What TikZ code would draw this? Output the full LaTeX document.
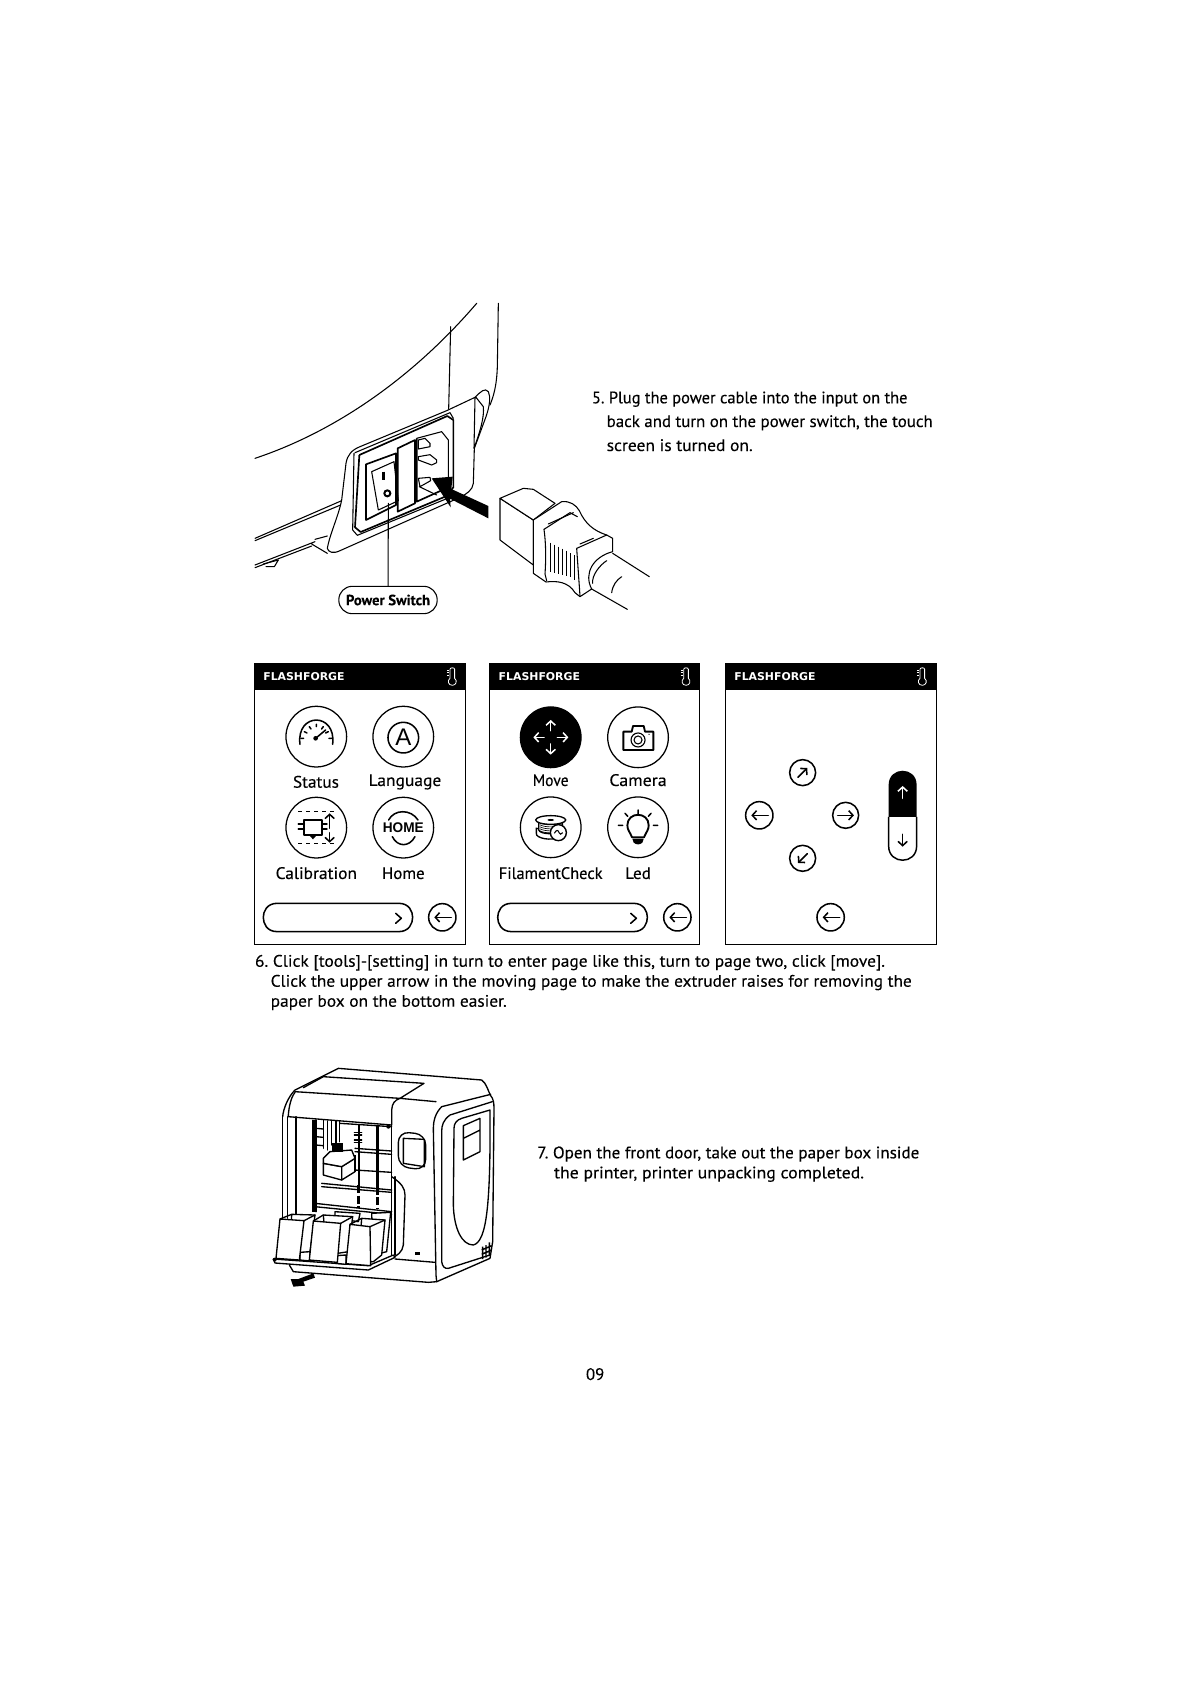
\documentclass[tikz,border=0pt]{standalone}
\usepackage{graphicx}
\usepackage{fontspec}
\setmainfont{PT Sans}[FakeBold=0.25]
\newfontfamily\logofont{DejaVu Sans}
\newfontfamily\iconfont{Liberation Sans}
\usetikzlibrary{arrows.meta}
\newcommand{\bodytxt}{\fontsize{12.5}{14}\selectfont\frenchspacing}
\newcommand{\widetxt}[2]{\resizebox{#1}{\height}{#2}}
\newcommand{\panelbase}[3]{%
  \fill[black] (0,0) rectangle (#2,80);
  \draw[framel] (0,0) rectangle (#2,843);
  \node[logotxt] (#1logo) at (149,40) {\resizebox{61pt}{6pt}{\logofont\bfseries FLASHFORGE}};
  \draw[white,line width=.6pt,fill=black] (#3-7,18) .. controls (#3-7,12) and (#3+7,12) .. (#3+7,18) -- (#3+7,45) .. controls (#3+16,52) and (#3+12,66) .. (#3,66) .. controls (#3-12,66) and (#3-16,52) .. (#3-7,45) -- cycle;
  \draw[white,line width=.4pt] (#3-16,20) -- (#3-10,20) (#3-16,28) -- (#3-10,28) (#3-16,36) -- (#3-10,36);
}
\newcommand{\backbtn}[3]{%
  \node[iconcirc,minimum size=20.5pt] (#1) at (#2,#3) {};
  \draw[iconl,-{Straight Barb[length=3.2pt,width=7pt]}] (#2+27,#3) -- (#2-24,#3);
}
\newcommand{\mainpill}[3]{%
  \draw[iconl] (#1+42,720) -- (#2-42,720) .. controls (#2-10,720) and (#2,745) .. (#2,762) .. controls (#2,780) and (#2-10,805) .. (#2-42,805) -- (#1+42,805) .. controls (#1+10,805) and (#1,780) .. (#1,762) .. controls (#1,745) and (#1+10,720) .. (#1+42,720) -- cycle;
  \draw[iconl] (#3,750) -- (#3+17,765) -- (#3,780);
}
\tikzset{
  textline/.style={anchor=base west,inner sep=0pt,outer sep=0pt,font=\bodytxt},
  scrlabel/.style={anchor=base,inner sep=0pt,outer sep=0pt,font=\bodytxt},
  logotxt/.style={inner sep=0pt,outer sep=0pt,text=white},
  zoomunits/.style={x=.25pt,y=-.25pt},
  linef/.style={line width=.8pt,line join=round,line cap=round},
  lineb/.style={line width=1.25pt,line join=round},
  printl/.style={line width=1pt,line join=round,line cap=round},
  printb/.style={line width=2pt,line cap=butt},
  framel/.style={line width=.8pt},
  iconl/.style={line width=1.15pt,line join=round,line cap=round},
  iconcirc/.style={circle,draw,line width=1.15pt,inner sep=0pt,outer sep=0pt},
  maincirc/.style={circle,draw,line width=.95pt,inner sep=0pt,outer sep=0pt,minimum size=45.5pt},
  barbtip/.style={-{Straight Barb[length=3.2pt,width=7pt]}},
}
\begin{document}
\begin{tikzpicture}[x=.75pt,y=-.75pt]
\useasboundingbox (0,0) rectangle (1191,1684);
\fill[white] (0,0) rectangle (1191,1684);

%% ===== figure 5 : power socket =====
\begin{scope}[shift={(240,290)},zoomunits]
\draw[linef] (45,505) .. controls (300,420) and (530,250) .. (710,40);
\draw[linef] (775,40) -- (772,230) .. controls (770,290) and (760,320) .. (750,345);
\draw[linef] (632,110) -- (626,357);
% base lines
\draw[linef] (45,745) -- (305,632) (45,752) -- (302,645);
\draw[linef] (45,825) -- (225,755) (45,833) -- (215,768) (215,762) -- (262,790) (225,748) -- (262,738);
\draw[linef] (70,822) -- (115,810) -- (103,830) -- (78,830);
% plate
\draw[linef,fill=white] (262,775) .. controls (270,730) and (295,680) .. (305,630) -- (318,520) .. controls (322,495) and (335,480) .. (360,470) -- (620,362) -- (705,322) .. controls (722,305) and (735,292) .. (745,305) .. controls (752,320) and (750,345) .. (738,380) -- (703,475) -- (700,580) .. controls (698,600) and (680,612) .. (660,622) -- (300,782) .. controls (280,792) and (265,787) .. (262,775) -- cycle;
\draw[linef] (708,322) -- (730,350) .. controls (733,380) and (722,420) .. (702,475) (705,322) -- (702,475);
% socket frame
\draw[lineb] (358,495) -- (622,378) -- (640,390) -- (640,592) -- (620,618) -- (362,726) -- (345,712) -- (358,495);
\draw[linef] (345,488) -- (630,368) -- (640,385) (338,720) -- (342,490) (338,720) -- (352,736) -- (620,626);
% switch
\draw[lineb] (378,523) -- (468,490) -- (468,645) -- (378,690) -- cycle;
\draw[linef] (395,545) -- (462,515) -- (475,632) -- (415,660) -- cycle;
\draw[line width=1.8pt] (430,545) -- (430,570);
\draw[line width=1.5pt] (442,610) circle[radius=9];
\coordinate (swc) at (445,640);
% fuse bar
\draw[lineb] (473,475) -- (525,450) -- (525,640) -- (473,665) -- cycle;
% socket well
\draw[linef] (530,445) -- (605,425) -- (625,450) -- (625,565);
\draw[lineb] (530,445) -- (530,635) -- (625,592);
\draw[linef,fill=white] (535,450) -- (555,445) -- (570,460) -- (570,470) -- (535,477) -- cycle;
\draw[linef,fill=white] (535,500) -- (570,494) -- (590,510) -- (590,518) -- (575,525) -- (535,510) -- cycle;
\draw[linef,fill=white] (535,565) -- (570,562) -- (572,572) -- (540,590) -- cycle;
\draw[linef] (538,590) -- (590,615);
% arrow
\fill[black] (575,565) -- (638,560) -- (634,597) -- (745,648) -- (745,685) -- (630,626) -- (632,652) -- cycle;
% plug
\draw[linef,fill=white] (780,625) -- (780,750) -- (880,825) -- (880,690) -- cycle;
\draw[linef,fill=white] (780,625) -- (850,595) -- (880,598) -- (945,640) -- (880,690) -- cycle;
\draw[linef,fill=white] (880,690) -- (965,635) .. controls (990,632) and (1008,645) .. (1018,662) .. controls (1035,700) and (1060,722) .. (1100,735) -- (1118,745) -- (1118,785) .. controls (1060,800) and (1030,850) .. (1055,897) -- (1020,920) -- (1005,908) .. controls (985,875) and (950,872) .. (918,876) -- (880,850) -- cycle;
\draw[linef] (912,718) -- (990,668) -- (1012,680);
\draw[linef] (912,718) .. controls (918,760) and (918,810) .. (915,852) -- (920,872);
\draw[linef] (925,702) -- (1000,668);
\draw[linef] (1010,775) -- (1100,735) (1020,762) -- (1060,745) (1010,775) -- (1020,918);
\foreach \hx/\ht/\hb in {932/758/845,944/764/850,956/770/853,968/776/855,980/782/858,992/790/862,1002/795/870}{
  \draw[line width=.6pt] (\hx,\ht) -- (\hx,\hb);
}
\draw[linef] (1058,880) .. controls (1055,855) and (1080,825) .. (1100,812);
\draw[linef] (1118,790) -- (1228,860) (1055,897) -- (1162,958);
\draw[linef] (1115,908) .. controls (1118,885) and (1130,870) .. (1145,860);
% label
\node[draw,line width=.8pt,rounded corners=10pt,minimum width=73.75pt,minimum height=20.5pt,inner sep=0pt] (ps) at (444,930) {\resizebox{63pt}{\height}{\fontsize{11}{13}\selectfont\bfseries Power Switch}};
\draw[linef] (swc) -- (ps);
\end{scope}

\node[textline] (t51) at (592,403.3) {\widetxt{236.6pt}{5. Plug the power cable into the input on the}};
\node[textline] (t52) at (606.7,427) {\widetxt{244.5pt}{back and turn on the power switch, the touch}};
\node[textline] (t53) at (606.7,451) {\widetxt{109.5pt}{screen is turned on.}};

%% ===== panel 1 =====
\begin{scope}[shift={(254.3,663.3)},zoomunits]
\panelbase{pa}{634}{594}
\node[maincirc] (pa1) at (186,220) {};
\node[maincirc] (pa2) at (447,220) {};
\node[maincirc] (pa3) at (186,493) {};
\node[maincirc] (pa4) at (447,493) {};
\node[scrlabel] (paL1) at (185,373) {\widetxt{34.5pt}{Status}};
\node[scrlabel] (paL2) at (452,368) {\widetxt{54.5pt}{Language}};
\node[scrlabel] (paL3) at (186,647) {\widetxt{61pt}{Calibration}};
\node[scrlabel] (paL4) at (447,647) {\widetxt{32pt}{Home}};
% gauge
\draw[iconl] (137,243) .. controls (125,146) and (247,146) .. (235,243);
\draw[iconl] (150,205) -- (158,209) (165,190) -- (170,197) (186,183) -- (186,190) (207,190) -- (202,197) (222,205) -- (214,209) (140,225) -- (148,225) (232,225) -- (224,225);
\draw[iconl] (184,225) -- (214,200);
\fill (184,225) circle[radius=7];
% A
\node[iconcirc,minimum size=23pt] (paA) at (447,223) {};
\node[inner sep=0pt] (paAt) at (447,223) {\fontsize{18}{20}\selectfont\iconfont A};
% calibration
\draw[line width=.6pt,dashed] (132,443) -- (240,443) (132,540) -- (240,540);
\draw[line width=1.4pt,line join=round] (150,470) -- (204,470) -- (204,515) -- (150,515) -- cycle;
\fill (167,518) -- (185,518) -- (176,528) -- cycle;
\draw[iconl] (132,482) -- (150,482) (132,497) -- (150,497) (204,482) -- (218,482) (204,497) -- (218,497);
\draw[iconl,barbtip] (226,495) -- (226,450);
\draw[iconl,barbtip] (226,508) -- (226,538);
% home
\node[inner sep=0pt] (paH) at (447,493) {\resizebox{30.7pt}{\height}{\fontsize{10.5}{12}\selectfont\iconfont\bfseries HOME}};
\draw[iconl] (403,470) .. controls (420,437) and (470,437) .. (491,470);
\draw[iconl] (414,520) .. controls (430,552) and (465,552) .. (482,520);
\mainpill{27}{475}{424}
\backbtn{paB}{564}{762}
\end{scope}

%% ===== panel 2 =====
\begin{scope}[shift={(489.7,663.3)},zoomunits]
\panelbase{pb}{628}{589}
\node[maincirc,fill=black] (pb1) at (183,222) {};
\node[maincirc] (pb2) at (445,222) {};
\node[maincirc] (pb3) at (183,492) {};
\node[maincirc] (pb4) at (445,492) {};
\node[scrlabel] (pbL1) at (183,368) {\widetxt{26.8pt}{Move}};
\node[scrlabel] (pbL2) at (445,368) {\widetxt{43pt}{Camera}};
\node[scrlabel] (pbL3) at (183,647) {\widetxt{77.8pt}{FilamentCheck}};
\node[scrlabel] (pbL4) at (445,647) {\widetxt{19.3pt}{Led}};
% move
\draw[white,iconl,barbtip] (183,202) -- (183,170);
\draw[white,iconl,barbtip] (183,242) -- (183,274);
\draw[white,iconl,barbtip] (163,222) -- (131,222);
\draw[white,iconl,barbtip] (203,222) -- (236,222);
% camera
\draw[line width=1.4pt,line join=round] (401,205) -- (426,205) -- (430,188) -- (462,188) -- (466,205) -- (491,205) -- (491,260) -- (401,260) -- cycle;
\draw[line width=.85pt] (445,230) circle[radius=21];
\draw[line width=.8pt] (445,230) circle[radius=12];
\fill (478,213) circle[radius=2];
% filament
\draw[line width=1pt,fill=white] (140,510) .. controls (136,525) and (190,535) .. (205,520) -- (205,505) -- (140,495) -- cycle;
\draw[line width=1pt,fill=white] (147,470) -- (147,500) .. controls (150,515) and (215,515) .. (218,500) -- (218,470);
\foreach \sy in {478,484,490,496,502}{\draw[line width=.5pt] (150,\sy) .. controls (165,\sy+9) and (200,\sy+9) .. (215,\sy);}
\draw[line width=1pt,fill=white] (183,470) ellipse[x radius=45,y radius=13];
\fill (183,470) ellipse[x radius=10,y radius=3];
\draw[line width=1.05pt,fill=white] (206,508) circle[radius=24];
\draw[line width=.8pt] (194,510) .. controls (200,498) and (206,500) .. (208,508) .. controls (210,514) and (215,514) .. (219,508);
% led
\draw[line width=1.4pt,line join=round] (427,522) .. controls (420,505) and (413,500) .. (413,486) .. controls (413,444) and (477,444) .. (477,486) .. controls (477,500) and (470,505) .. (463,522) -- cycle;
\fill (428,526) -- (462,526) -- (458,538) .. controls (450,545) and (440,545) .. (432,538) -- cycle;
\draw[iconl] (445,440) -- (445,452) (386,486) -- (399,486) (491,486) -- (504,486) (406,450) -- (414,459) (484,450) -- (476,459);
\mainpill{24}{473}{423}
\backbtn{pbB}{563}{762}
\end{scope}

%% ===== panel 3 =====
\begin{scope}[shift={(725.3,663.3)},zoomunits]
\panelbase{pc}{634}{591}
\node[iconcirc,minimum size=19.5pt] (pc1) at (232,328) {};
\draw[iconl,barbtip] (218,342) -- (246,314);
\node[iconcirc,minimum size=19.5pt] (pc2) at (232,585) {};
\draw[iconl,barbtip] (246,571) -- (218,599);
\backbtn{pc3}{102}{456}
\node[iconcirc,minimum size=19.5pt] (pc4) at (361,456) {};
\draw[iconl,barbtip] (337,456) -- (386,456);
\backbtn{pc5}{316}{762}
% slider
\draw[line width=1.1pt] (490,461) -- (490,548) .. controls (490,605) and (574,605) .. (574,548) -- (574,461);
\fill[black] (490,461) -- (490,365) .. controls (490,308) and (574,308) .. (574,365) -- (574,461) -- cycle;
\draw[white,iconl,barbtip] (532,405) -- (532,368);
\draw[iconl,barbtip] (532,513) -- (532,550);
\end{scope}

%% ===== text 6 =====
\node[textline] (t61) at (255,966.7) {\widetxt{472.5pt}{6. Click [tools]-[setting] in turn to enter page like this, turn to page two, click [move].}};
\node[textline] (t62) at (270.7,986.7) {\widetxt{480.8pt}{Click the upper arrow in the moving page to make the extruder raises for removing the}};
\node[textline] (t63) at (270.7,1006.7) {\widetxt{177pt}{paper box on the bottom easier.}};

%% ===== figure 7 : printer =====
\begin{scope}[shift={(260,1055)},zoomunits]
\draw[printl] (68,185) .. controls (70,160) and (85,125) .. (105,105) -- (235,40) -- (665,75) .. controls (680,85) and (685,110) .. (692,122) .. controls (700,130) and (702,145) .. (702,160) -- (698,560) -- (690,610) -- (530,680) -- (505,682) -- (100,650) -- (88,630);
\draw[printl] (105,110) -- (420,130) -- (528,140) (130,98) -- (190,65) -- (492,85) -- (420,130);
\draw[printl] (105,112) .. controls (90,130) and (85,170) .. (85,185) -- (395,210) -- (395,165) .. controls (396,145) and (405,135) .. (420,130);
\draw[printl] (692,118) -- (545,155) .. controls (525,175) and (520,200) .. (520,220) -- (528,660) -- (530,680);
\draw[printl] (697,140) -- (570,180) .. controls (550,195) and (545,210) .. (545,230) -- (545,620) .. controls (547,635) and (555,642) .. (565,640) -- (690,600);
\draw[printl] (690,165) -- (605,190) .. controls (590,195) and (582,205) .. (582,220) -- (580,450) .. controls (582,520) and (605,570) .. (640,570) .. controls (680,560) and (692,450) .. (690,165);
\draw[printl] (610,212) -- (660,190) -- (660,290) -- (610,315) -- cycle (610,250) -- (660,225);
\draw[printl,rounded corners=8pt] (415,230) -- (497,238) -- (497,345) -- (415,335) -- cycle;
\draw[printl] (430,250) -- (493,253) -- (493,335) -- (430,325) -- cycle;
% interior
\draw[printl] (68,185) -- (68,500) (82,185) -- (82,490) (108,185) -- (108,490);
\draw[printb] (160,195) -- (160,470);
\draw[printl] (168,195) -- (168,470) (190,195) -- (190,280) (203,198) -- (203,285) (215,198) -- (215,270) (228,198) -- (228,265) (238,198) -- (238,260);
\draw[printl] (168,220) -- (190,222) (168,245) -- (190,247) (168,270) -- (190,272);
\draw[printl] (240,205) -- (395,215) (285,280) -- (395,288) (285,290) -- (395,298) (285,345) -- (395,352) (185,385) -- (395,405) (185,395) -- (395,412) (165,445) -- (395,470) (165,455) -- (395,478);
\draw[line width=1.5pt] (296,210) -- (296,390);
\draw[printb,dash pattern=on 6pt off 2pt] (296,390) -- (296,460);
\draw[printb] (352,210) -- (352,395);
\draw[printb,dash pattern=on 6pt off 2pt] (352,395) -- (352,462);
\draw[printl] (283,232) -- (305,232) (283,240) -- (305,240) (283,255) -- (305,255) (283,263) -- (305,263);
\fill (385,215) circle[radius=6];
\draw[printl] (395,210) -- (395,605) (405,365) -- (405,600);
\draw[printl] (395,365) .. controls (425,385) and (435,400) .. (435,420) -- (430,570) .. controls (428,590) and (410,605) .. (395,607);
% extruder
\draw[printl,fill=white] (190,325) -- (245,335) -- (245,375) -- (190,360) -- cycle;
\draw[printl,fill=white] (245,335) -- (285,310) -- (285,350) -- (245,375) -- cycle;
\draw[printl,fill=white] (190,325) -- (190,310) -- (210,290) -- (275,285) -- (285,310) -- (245,335) -- cycle;
\fill (215,265) rectangle (250,292);
\draw[printb] (285,300) -- (285,350);
% blocks (back to front)
\draw[printl,fill=white] (335,475) -- (392,472) -- (380,590) -- (340,600) -- cycle;
\draw[printl,fill=white] (305,490) -- (375,495) -- (365,600) -- (340,620) -- (295,620) -- cycle;
\draw[printl,fill=white] (225,470) -- (300,475) -- (295,500) -- (225,490) -- cycle;
\draw[printl,fill=white] (190,480) -- (278,485) -- (265,590) -- (200,600) -- cycle;
\draw[printl,fill=white] (95,478) -- (165,480) -- (150,590) -- (90,600) -- cycle;
\draw[printl,fill=white] (40,612) -- (325,632) -- (400,600) -- (405,607) -- (325,645) -- (45,624) -- cycle;
\draw[printl,fill=white] (120,592) -- (150,590) -- (150,618) -- (120,615) -- cycle;
\draw[printl,fill=white] (228,602) -- (258,600) -- (258,628) -- (228,625) -- cycle;
\draw[printl,fill=white] (60,492) -- (132,497) -- (118,615) -- (48,610) -- cycle;
\draw[printl,fill=white] (160,498) -- (242,505) -- (232,622) -- (148,615) -- cycle;
\draw[printl,fill=white] (270,508) -- (330,515) -- (332,632) -- (258,626) -- cycle;
\draw[printl] (60,492) -- (95,478) (132,497) -- (165,480) (160,498) -- (190,480) (242,505) -- (278,485) (270,508) -- (305,490) (330,515) -- (375,495);
\fill (44,614) circle[radius=6];
\draw[printl] (405,612) -- (525,622);
% arrow, button, ports
\fill (160,655) -- (165,668) -- (130,680) -- (135,692) -- (100,695) -- (92,672) -- (115,672) -- cycle;
\fill (465,592) rectangle (481,600);
\draw[line width=1.1pt] (668,575) -- (668,612) (678,570) -- (678,608) (688,562) -- (688,602) (665,585) -- (695,572) (665,598) -- (695,585);
\end{scope}

\node[textline] (t71) at (537.3,1158.3) {\widetxt{286.5pt}{7. Open the front door, take out the paper box inside}};
\node[textline] (t72) at (554,1178.3) {\widetxt{232.5pt}{the printer, printer unpacking completed.}};
\node[textline] (pg) at (586,1380) {\widetxt{13.7pt}{09}};
\end{tikzpicture}
\end{document}
